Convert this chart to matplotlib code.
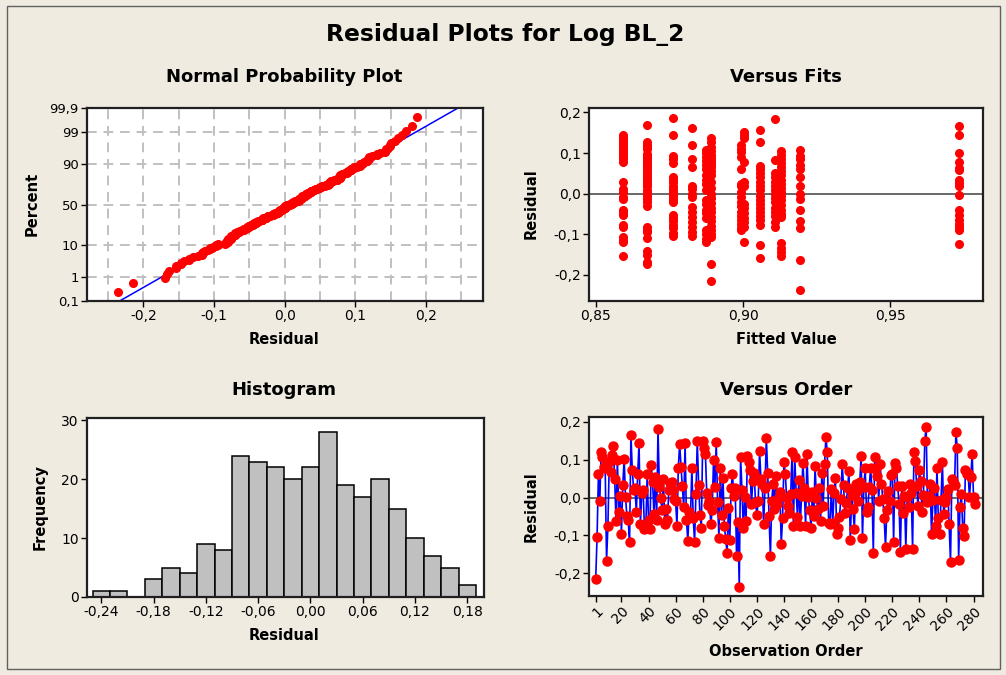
import numpy as np
import matplotlib.pyplot as plt
from matplotlib.patches import Rectangle
from statistics import NormalDist

residuals = [
    -0.215, -0.103, 0.061, -0.010, 0.120, 0.107, 0.081, 0.078, -0.167, -0.076,
    0.094, 0.068, 0.112, 0.135, 0.048, -0.063, 0.098, -0.039, 0.004, -0.095,
    0.033, 0.103, 0.001, -0.048, -0.060, -0.117, 0.166, 0.074, 0.020, 0.024,
    -0.039, 0.063, 0.143, -0.071, 0.012, 0.020, -0.083, -0.080, 0.063, -0.058,
    -0.083, 0.085, 0.042, -0.044, 0.055, -0.058, 0.181, 0.029, -0.002, -0.032,
    0.048, -0.071, -0.030, -0.058, 0.020, 0.039, 0.042, 0.020, -0.005, -0.010,
    -0.076, 0.079,
    0.142, 0.081, 0.030, -0.025, 0.143, -0.058, -0.115, -0.037, -0.050, 0.079,
    -0.054, -0.117, 0.010, 0.150, 0.033, -0.045, -0.080, 0.149, 0.131, 0.116,
    0.011, -0.021, -0.008, -0.071, -0.034, 0.098, 0.029, 0.146, -0.013, -0.106,
    0.079, -0.045, 0.052, -0.076, -0.109, -0.147, -0.027, -0.113, 0.024, 0.062,
    0.003, 0.024, -0.154, -0.065, -0.236, 0.107, 0.020, -0.080, 0.001, -0.063,
    0.109, 0.094, 0.074, -0.018, 0.044, 0.065, -0.013, -0.045, -0.010, 0.124,
    0.050, 0.035, -0.071, 0.024, 0.157, 0.065, -0.050, -0.154, -0.008, 0.037,
    -0.030, 0.057, -0.017, 0.001, 0.015, -0.123, -0.054, 0.094, 0.063, -0.002,
    -0.023, -0.040, 0.009,
    0.120, -0.076, 0.107, 0.013, -0.051, 0.046, -0.074, 0.004, 0.091, 0.024,
    -0.076, 0.116, 0.001, -0.032, -0.080, 0.014, -0.048, 0.083, -0.002, -0.030,
    0.024, -0.063, 0.065, -0.022, 0.088, 0.161, 0.120, -0.067, -0.069, 0.022,
    -0.067, 0.011, 0.052, -0.097, -0.080, -0.051, -0.004, 0.088, 0.033, -0.041,
    -0.015, 0.024, 0.070, -0.113, 0.007, -0.030, -0.084, 0.037, 0.016, -0.010,
    0.042, 0.111, -0.106, 0.029, 0.077, -0.037, -0.026, 0.029, 0.079, 0.020,
    -0.147, 0.107, 0.079, 0.058, -0.008,
    0.088, 0.037, -0.004, -0.054, -0.130, -0.032, 0.018, -0.008, 0.059, 0.063,
    -0.117, 0.090, 0.079, 0.030, -0.017, -0.143, 0.030, -0.040, 0.004, -0.135,
    0.001, -0.025, 0.037, 0.012, -0.135, 0.120, 0.097, 0.030, -0.023, 0.074,
    0.044, -0.038, 0.007, 0.149, 0.187, -0.013, 0.004, 0.036, -0.097, -0.006,
    0.025, -0.076, 0.079, -0.054, -0.095, -0.006, 0.094, -0.044, -0.012, 0.001,
    0.022, -0.071, -0.170, 0.048, 0.044, 0.033, 0.172, 0.131, -0.164, -0.025,
    0.010, -0.080, -0.102, 0.074, 0.063, 0.064, 0.001, 0.053, 0.116, 0.001,
    -0.017,
]

# versus fits: fitted value levels and residuals at each level
fit_levels = [0.8593, 0.8675, 0.8762, 0.8827, 0.8875, 0.8892, 0.8994,
              0.9005, 0.9057, 0.9110, 0.9128, 0.9194, 0.9735]
fit_resid = [
    [0.145, 0.139, 0.133, 0.126, 0.119, 0.112, 0.105, 0.098, 0.092, 0.085, 0.078,
     0.029, 0.012, 0.004, -0.008, -0.012, -0.041, -0.047, -0.053, -0.076, -0.082,
     -0.107, -0.113, -0.119, -0.154],
    [0.170, 0.128, 0.120, 0.117, 0.110, 0.099, 0.094, 0.088, 0.082, 0.078, 0.074,
     0.068, 0.062, 0.055, 0.048, 0.041, 0.035, 0.030, 0.025, 0.018, 0.008, 0.002,
     -0.005, -0.012, -0.020, -0.029, -0.082, -0.089, -0.095, -0.110, -0.140,
     -0.150, -0.168, -0.173],
    [0.187, 0.144, 0.094, 0.086, 0.076, 0.041, 0.035, 0.028, 0.020, 0.012, 0.005,
     -0.002, -0.010, -0.015, -0.020, -0.053, -0.060, -0.066, -0.078, -0.085,
     -0.097, -0.103],
    [0.162, 0.119, 0.086, 0.066, 0.020, 0.012, 0.000, -0.008, -0.033, -0.045,
     -0.058, -0.070, -0.082, -0.094, -0.103],
    [0.108, 0.100, 0.090, 0.080, 0.070, 0.060, 0.045, 0.035, 0.025, 0.010, -0.015,
     -0.025, -0.040, -0.048, -0.060, -0.090, -0.100, -0.112, -0.119],
    [0.137, 0.128, 0.115, 0.105, 0.095, 0.088, 0.080, 0.072, 0.065, 0.055, 0.045,
     0.030, 0.015, 0.000, -0.010, -0.022, -0.035, -0.045, -0.058, -0.068, -0.080,
     -0.090, -0.100, -0.107, -0.174, -0.214],
    [0.119, 0.111, 0.103, 0.090, 0.062, 0.025, 0.018, 0.005, -0.008, -0.020,
     -0.030, -0.045, -0.055, -0.065, -0.075, -0.085, -0.090],
    [0.152, 0.145, 0.138, 0.078, 0.029, 0.020, -0.025, -0.035, -0.048, -0.060,
     -0.070, -0.082, -0.119],
    [0.158, 0.127, 0.068, 0.060, 0.050, 0.040, 0.030, 0.020, 0.008, -0.005,
     -0.015, -0.025, -0.035, -0.045, -0.055, -0.065, -0.077, -0.127, -0.158],
    [0.183, 0.084, 0.050, 0.040, 0.030, 0.020, 0.010, 0.000, -0.010, -0.020,
     -0.035, -0.045, -0.055, -0.070, -0.082],
    [0.105, 0.095, 0.085, 0.075, 0.065, 0.055, 0.045, 0.035, 0.025, 0.015, 0.005,
     -0.005, -0.015, -0.028, -0.040, -0.050, -0.058, -0.122, -0.133, -0.143,
     -0.154],
    [0.107, 0.094, 0.086, 0.070, 0.062, 0.041, 0.020, 0.000, -0.012, -0.041,
     -0.066, -0.084, -0.163, -0.236],
    [0.166, 0.144, 0.100, 0.078, 0.064, 0.058, 0.035, 0.026, 0.018, -0.002,
     -0.041, -0.053, -0.064, -0.074, -0.082, -0.090, -0.123],
]

# histogram bars
hist_centers = [-0.24, -0.22, -0.20, -0.18, -0.16, -0.14, -0.12, -0.10, -0.08,
                -0.06, -0.04, -0.02, 0.00, 0.02, 0.04, 0.06, 0.08, 0.10, 0.12,
                0.14, 0.16, 0.18]
hist_counts = [1, 1, 0, 3, 5, 4, 9, 8, 24, 23, 22, 20, 22, 28, 19, 17, 20, 15,
               10, 7, 5, 2]

pct_ticks = [0.1, 1, 10, 50, 90, 99, 99.9]
pct_labels = ['0,1', '1', '10', '50', '90', '99', '99,9']
order_ticks = [1, 20, 40, 60, 80, 100, 120, 140, 160, 180, 200, 220, 240, 260, 280]

BG = '#EFEBE1'
W, H = 1006, 675


def comma(v, d):
    return f"{v:.{d}f}".replace('.', ',')


def box(x0, y0, x1, y1):
    # pixel box (top-left origin) -> figure fraction
    return [x0 / W, 1 - y1 / H, (x1 - x0) / W, (y1 - y0) / H]


def style(ax):
    ax.set_facecolor('white')
    for s in ax.spines.values():
        s.set_linewidth(1.6)
        s.set_color('#202020')
    ax.tick_params(direction='out', length=4, width=1, labelsize=10, pad=2)


def ftext(x, y, s, size=10.5, rot=0):
    fig.text(x / W, 1 - y / H, s, ha='center', va='center', fontsize=size,
             fontweight='bold', rotation=rot)


fig = plt.figure(figsize=(W / 100, H / 100), dpi=100, facecolor=BG)
fig.patches.append(Rectangle((7 / W, 6 / H), 993 / W, 663 / H, transform=fig.transFigure,
                             fill=False, edgecolor='#606060', linewidth=1))

ftext(505, 35, 'Residual Plots for Log BL_2', size=16.8)

nd = NormalDist()

# Normal probability plot
ax1 = fig.add_axes(box(87, 108, 483, 301))
style(ax1)
r = np.sort(np.array(residuals))
n = len(r)
p = (np.arange(1, n + 1) - 0.3) / (n + 0.4)
z = np.array([nd.inv_cdf(v) for v in p])
mu, sd = r.mean(), r.std(ddof=1)
zlim = [nd.inv_cdf(0.001), nd.inv_cdf(0.999)]
for gx in np.arange(-0.25, 0.26, 0.05):
    ax1.axvline(gx, color='#C0C0C0', lw=1.4, ls=(0, (5, 3.5)), zorder=0)
for t in pct_ticks[1:-1]:
    ax1.axhline(nd.inv_cdf(t / 100), color='#C0C0C0', lw=1.4, ls=(0, (5, 3.5)), zorder=0)
ax1.plot([mu + sd * zlim[0], mu + sd * zlim[1]], zlim, color='#0000FF', lw=1.1, zorder=2)
ax1.plot(r, z, 'o', color='#FF0000', ms=5.5, zorder=3)
ax1.set_xlim(-0.28, 0.281)
ax1.set_ylim(zlim)
ax1.set_yticks([nd.inv_cdf(t / 100) for t in pct_ticks])
ax1.set_yticklabels(pct_labels, fontsize=9.5)
xt = [-0.2, -0.1, 0.0, 0.1, 0.2]
ax1.set_xticks(xt)
ax1.set_xticklabels([comma(v, 1) for v in xt])
ftext(284, 77, 'Normal Probability Plot', size=13)
ftext(284, 340, 'Residual')
ftext(32, 204, 'Percent', rot=90)

# Versus fits
ax2 = fig.add_axes(box(589, 108, 983, 301))
style(ax2)
ax2.axhline(0, color='#404040', lw=1.1, zorder=1)
for fv, rs in zip(fit_levels, fit_resid):
    ax2.plot([fv] * len(rs), rs, 'o', color='#FF0000', ms=5.5, zorder=3)
ax2.set_xlim(0.8477, 0.9815)
ax2.set_ylim(-0.264, 0.211)
ax2.set_xticks([0.85, 0.90, 0.95])
ax2.set_xticklabels([comma(v, 2) for v in [0.85, 0.90, 0.95]])
yt = [-0.2, -0.1, 0.0, 0.1, 0.2]
ax2.set_yticks(yt)
ax2.set_yticklabels([comma(v, 1) for v in yt])
ftext(786, 77, 'Versus Fits', size=13)
ftext(786, 340, 'Fitted Value')
ftext(531, 204, 'Residual', rot=90)

# Histogram
ax3 = fig.add_axes(box(87, 418, 484, 597))
style(ax3)
ax3.bar(hist_centers, hist_counts, width=0.02, color='#C0C0C0', edgecolor='black',
        linewidth=1.1, zorder=2)
ax3.set_xlim(-0.2564, 0.1992)
ax3.set_ylim(0, 30.4)
ht = [-0.24, -0.18, -0.12, -0.06, 0.0, 0.06, 0.12, 0.18]
ax3.set_xticks(ht)
ax3.set_xticklabels([comma(v, 2) for v in ht])
ax3.set_yticks([0, 10, 20, 30])
ftext(284, 390, 'Histogram', size=13)
ftext(284, 636, 'Residual')
ftext(40, 507, 'Frequency', rot=90)

# Versus order
ax4 = fig.add_axes(box(589, 417, 983, 596))
style(ax4)
obs = np.arange(1, len(residuals) + 1)
ax4.axhline(0, color='#404040', lw=1.1, zorder=1)
ax4.plot(obs, residuals, '-', color='#0000FF', lw=1.2, zorder=2)
ax4.plot(obs, residuals, 'o', color='#FF0000', ms=6.5, zorder=3)
ax4.set_xlim(-3.96, 287)
ax4.set_ylim(-0.26, 0.2127)
ax4.set_xticks(order_ticks)
ax4.set_xticklabels([str(v) for v in order_ticks], rotation=45, ha='right',
                    rotation_mode='anchor')
ax4.set_yticks(yt)
ax4.set_yticklabels([comma(v, 1) for v in yt])
ftext(786, 390, 'Versus Order', size=13)
ftext(786, 652, 'Observation Order')
ftext(531, 507, 'Residual', rot=90)

fig.savefig('out.png', dpi=100, facecolor=BG)
